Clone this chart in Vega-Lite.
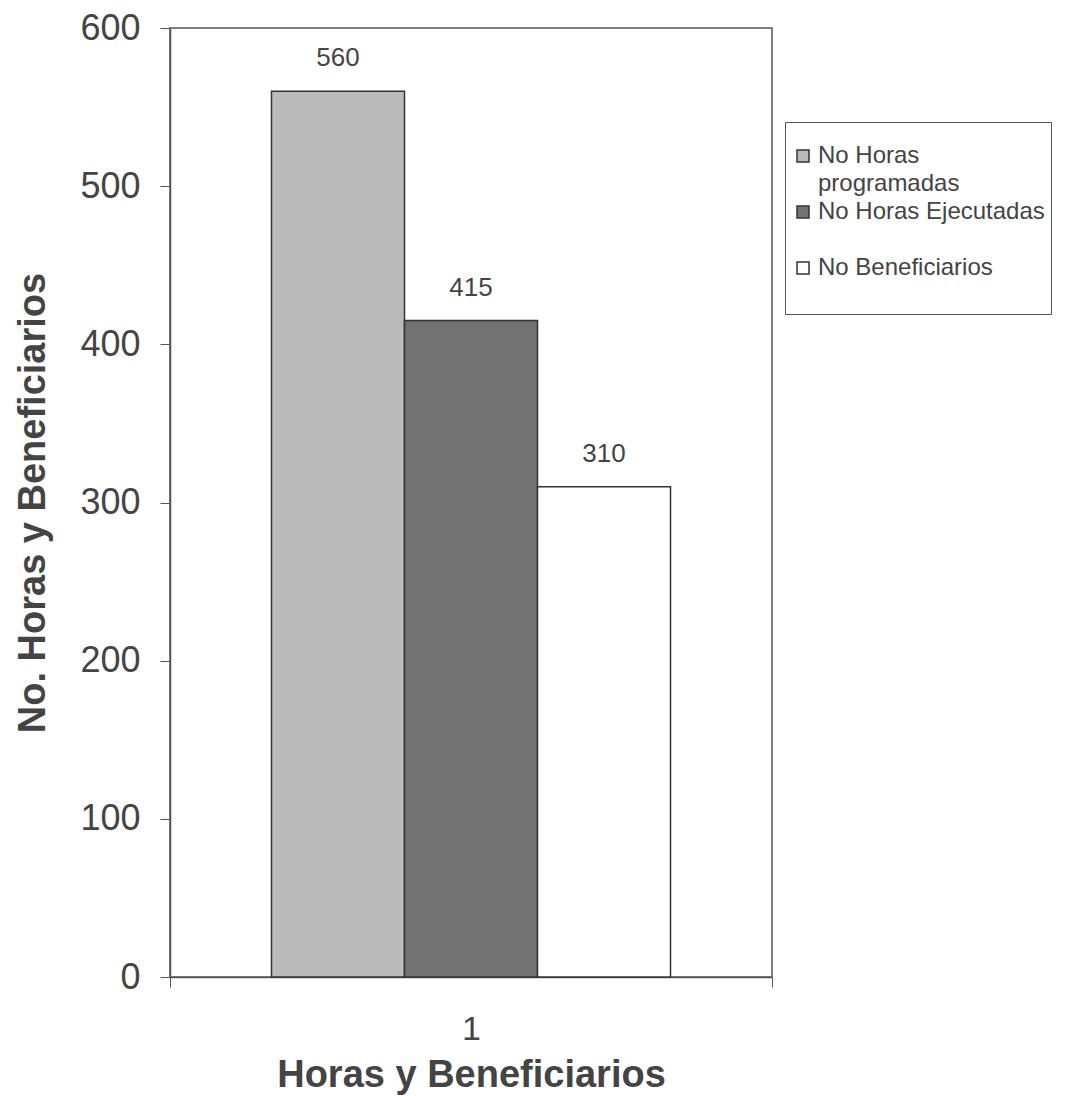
{
  "$schema": "https://vega.github.io/schema/vega-lite/v6.json",
  "autosize": {"type": "none"},
  "width": 602,
  "height": 949,
  "padding": {"left": 170, "top": 28, "right": 305, "bottom": 119},
  "background": "white",
  "config": {
    "font": "Liberation Sans",
    "view": {"stroke": "#555", "strokeWidth": 1.5},
    "style": {"guide-label": {"lineHeight": 28}}
  },
  "data": {
    "values": [
      {"grupo": "1", "serie": "No Horas programadas", "valor": 560},
      {"grupo": "1", "serie": "No Horas Ejecutadas", "valor": 415},
      {"grupo": "1", "serie": "No Beneficiarios", "valor": 310}
    ]
  },
  "encoding": {
    "x": {
      "field": "grupo",
      "type": "nominal",
      "scale": {"paddingInner": 0, "paddingOuter": 0},
      "axis": {
        "title": "Horas y Beneficiarios",
        "titleFontSize": 38,
        "titleFontWeight": "bold",
        "titleColor": "#444",
        "titlePadding": 10,
        "labelAngle": 0,
        "labelFontSize": 34,
        "labelColor": "#444",
        "labelPadding": 25,
        "tickBand": "extent",
        "tickSize": 10,
        "tickColor": "#555",
        "domainColor": "#555",
        "domainWidth": 1.5
      }
    },
    "xOffset": {
      "field": "serie",
      "type": "nominal",
      "sort": ["No Horas programadas", "No Horas Ejecutadas", "No Beneficiarios"],
      "scale": {"paddingInner": 0, "paddingOuter": 0.763}
    },
    "y": {
      "field": "valor",
      "type": "quantitative",
      "scale": {"domain": [0, 600]},
      "axis": {
        "title": "No. Horas y Beneficiarios",
        "titleFontSize": 38,
        "titleFontWeight": "bold",
        "titleColor": "#444",
        "titlePadding": 27,
        "values": [0, 100, 200, 300, 400, 500, 600],
        "labelFontSize": 36,
        "labelColor": "#444",
        "labelPadding": 20,
        "tickSize": 10,
        "tickColor": "#555",
        "domainColor": "#555",
        "domainWidth": 1.5,
        "grid": false
      }
    }
  },
  "layer": [
    {
      "mark": {"type": "bar", "stroke": "#333", "strokeWidth": 1.5},
      "encoding": {
        "fill": {
          "field": "serie",
          "type": "nominal",
          "sort": ["No Horas programadas", "No Horas Ejecutadas", "No Beneficiarios"],
          "scale": {
            "domain": ["No Horas programadas", "No Horas Ejecutadas", "No Beneficiarios"],
            "range": ["#bababa", "#727272", "#ffffff"]
          },
          "legend": {
            "title": " ",
            "titleFontSize": 10,
            "titlePadding": 6,
            "orient": "none",
            "legendX": 615,
            "legendY": 94,
            "strokeColor": "#555",
            "padding": 6,
            "symbolType": "square",
            "symbolSize": 144,
            "symbolStrokeColor": "#333",
            "symbolStrokeWidth": 1.5,
            "labelFontSize": 24,
            "labelColor": "#444",
            "labelLimit": 400,
            "labelOffset": 3,
            "rowPadding": 4,
            "labelExpr": "datum.label == 'No Horas programadas' ? ['No Horas', 'programadas'] : datum.label == 'No Horas Ejecutadas' ? ['No Horas Ejecutadas', ' '] : ['No Beneficiarios', ' ']"
          }
        }
      }
    },
    {
      "mark": {"type": "text", "baseline": "bottom", "dy": -20, "fontSize": 26, "color": "#444"},
      "encoding": {
        "text": {"field": "valor", "type": "quantitative"}
      }
    }
  ]
}
